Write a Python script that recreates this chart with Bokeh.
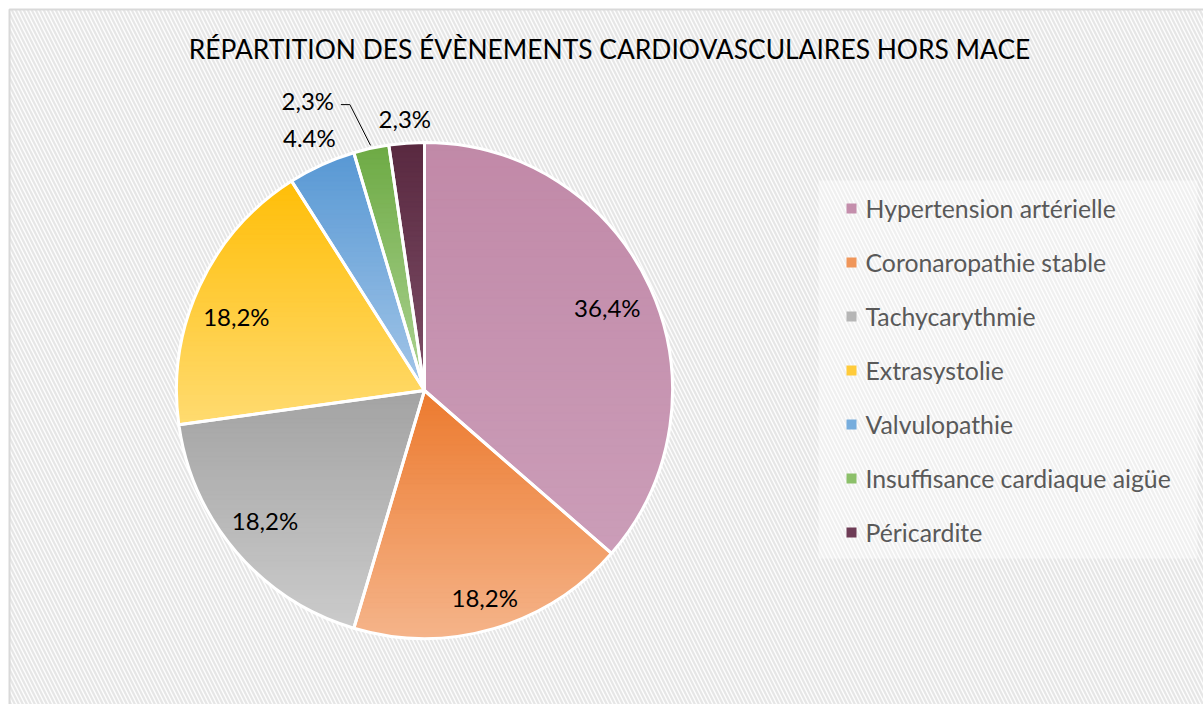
import numpy as np
from bokeh.plotting import figure
from bokeh.models import Range1d
from bokeh.core.properties import value
from bokeh.embed import file_html
from bokeh.resources import INLINE

# ---------------- data ----------------
title = "RÉPARTITION DES ÉVÈNEMENTS CARDIOVASCULAIRES HORS MACE"
categories = ["Hypertension artérielle", "Coronaropathie stable", "Tachycarythmie",
              "Extrasystolie", "Valvulopathie", "Insuffisance cardiaque aigüe", "Péricardite"]
percents = [36.4, 18.2, 18.2, 18.2, 4.4, 2.3, 2.3]
labels = ["36,4%", "18,2%", "18,2%", "18,2%", "4.4%", "2,3%", "2,3%"]

# ---------------- styles ----------------
top_colors = ["#C189A8", "#EC7A2E", "#A3A3A3", "#FFBE08", "#5898D4", "#6DAA44", "#592940"]
bot_colors = ["#CB9DB8", "#F5B48A", "#CBCBCB", "#FFDB70", "#A3C6E8", "#AED494", "#7E4F68"]
mid_colors = ["#C48EAC", "#F0965A", "#B6B6B6", "#FFCB3A", "#77ADDD", "#8CC06A", "#6E3C56"]
label_r = [0.81, 0.87, 0.83, 0.815, 1.12, 1.26, 1.10]
label_ang_shift = [0, 0, 1.5, -3.4, 0, -9.5, 0]   # degrees

W, H = 1203, 704
FONT = "Lato"

def sx(x):  # screen px -> data x
    return x
def sy(y):  # screen px -> data y
    return H - y

cx, cy, R = sx(424), sy(390), 248.0

p = figure(width=W, height=H, output_backend="svg", toolbar_location=None,
           x_range=Range1d(0, W), y_range=Range1d(0, H), min_border=0,
           x_axis_location=None, y_axis_location=None)
p.grid.visible = False
p.outline_line_color = None
p.background_fill_color = "#FFFFFF"
p.border_fill_color = "#FFFFFF"

# hatched background with thin frame
p.quad(left=[sx(9)], right=[sx(1210)], bottom=[sy(710)], top=[sy(9)], fill_color="#FDFDFD",
       line_color="#D9D9D9", line_width=2,
       hatch_pattern="\\", hatch_color="#E6E6E6", hatch_scale=8, hatch_weight=2.2)

# ---------------- pie with vertical gradient ----------------
def hex2rgb(h):
    h = h.lstrip("#")
    return np.array([int(h[i:i + 2], 16) for i in (0, 2, 4)], dtype=float)

def rgb2hex(c):
    c = np.clip(np.round(c), 0, 255).astype(int)
    return "#%02x%02x%02x" % tuple(c)

def clip_poly(pts, y0, keep_above):
    out = []
    n = len(pts)
    for i in range(n):
        a = pts[i]
        b = pts[(i + 1) % n]
        ina = a[1] >= y0 if keep_above else a[1] <= y0
        inb = b[1] >= y0 if keep_above else b[1] <= y0
        if ina:
            out.append(a)
        if ina != inb:
            t = (y0 - a[1]) / (b[1] - a[1])
            out.append((a[0] + t * (b[0] - a[0]), y0))
    return out

fr = np.array(percents) / sum(percents)
cum = np.concatenate([[0], np.cumsum(fr)]) * 360.0   # clockwise degrees from top

xs_all, ys_all, cols_all = [], [], []
for i in range(len(percents)):
    a0, a1 = cum[i], cum[i + 1]
    angs = np.radians(90 - np.linspace(a0, a1, 200))
    poly = [(cx, cy)] + [(cx + R * np.cos(t), cy + R * np.sin(t)) for t in angs]
    ysv = [q[1] for q in poly]
    ytop, ybot = max(ysv), min(ysv)
    nb = 50
    edges = np.linspace(ytop, ybot, nb + 1)
    ct, cb = hex2rgb(top_colors[i]), hex2rgb(bot_colors[i])
    for k in range(nb):
        hi, lo = edges[k] + 0.4, edges[k + 1] - 0.4
        pc = clip_poly(poly, hi, keep_above=False)
        if len(pc) < 3:
            continue
        pc = clip_poly(pc, lo, keep_above=True)
        if len(pc) < 3:
            continue
        t = (k + 0.5) / nb
        xs_all.append([q[0] for q in pc])
        ys_all.append([q[1] for q in pc])
        cols_all.append(rgb2hex(ct + (cb - ct) * t))

p.patches(xs=xs_all, ys=ys_all, fill_color=cols_all, line_color=cols_all, line_width=0.6)

# white slice borders
start = np.radians(90 - cum[:-1])
end = np.radians(90 - cum[1:])
p.wedge(x=[cx] * len(percents), y=[cy] * len(percents), radius=R,
        start_angle=list(start), end_angle=list(end), direction="clock",
        fill_color=None, line_color="white", line_width=3)

# ---------------- data labels ----------------
lx, ly = [], []
for i in range(len(percents)):
    mid = (cum[i] + cum[i + 1]) / 2 + label_ang_shift[i]
    t = np.radians(90 - mid)
    lx.append(cx + label_r[i] * R * np.cos(t))
    ly.append(cy + label_r[i] * R * np.sin(t))
p.text(x=lx, y=ly, text=labels, text_align="center", text_baseline="middle",
       text_font=value(FONT), text_font_size="24px", text_color="#000000")

# leader line for green slice
gi = 5
gmid = np.radians(90 - (cum[gi] + cum[gi + 1]) / 2)
ex, ey = cx + (R + 3) * np.cos(gmid), cy + (R + 3) * np.sin(gmid)
p.line(x=[lx[gi] + 33, lx[gi] + 42, ex], y=[ly[gi] - 4, ly[gi] - 4, ey],
       line_color="#000000", line_width=1)

# ---------------- title ----------------
p.text(x=[sx(609)], y=[sy(48)], text=[title], text_align="center", text_baseline="middle",
       text_font=value(FONT), text_font_size="26.4px", text_color="#000000")

# ---------------- legend ----------------
p.quad(left=[sx(818)], right=[sx(1197)], top=[sy(180)], bottom=[sy(558)],
       fill_color="white", fill_alpha=0.4, line_color=None)
leg_y = [sy(208 + 54 * i) for i in range(len(categories))]
p.scatter(x=[sx(851)] * len(categories), y=leg_y, marker="square", size=10,
          fill_color=mid_colors, line_color=None)
p.text(x=[sx(865)] * len(categories), y=leg_y, text=categories, text_align="left",
       text_baseline="middle", text_font=value(FONT), text_font_size="24.8px",
       text_color="#595959")

open("out.html", "w").write(file_html(p, INLINE))
